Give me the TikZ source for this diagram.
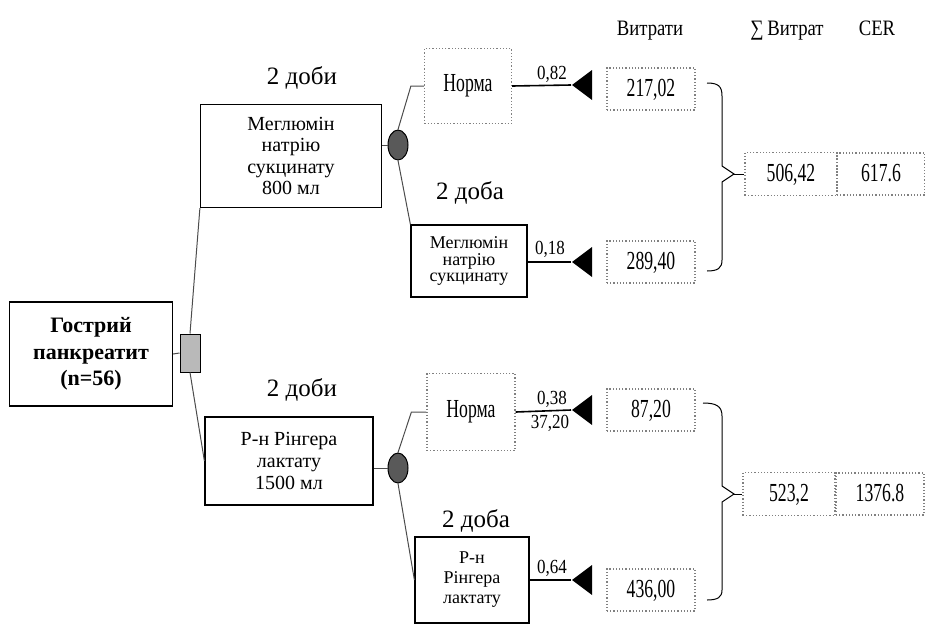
\documentclass[tikz,border=0pt]{standalone}
\usepackage{fontspec}
\setmainfont{Liberation Serif}
\newfontfamily\narrowfont[FakeStretch=0.68]{Liberation Serif}
\newfontfamily\semifont[FakeStretch=0.85]{Liberation Serif}
\usetikzlibrary{
  arrows.meta,
  positioning,
  calc,
  shapes.geometric
}

\begin{document}
\begin{tikzpicture}[
        x=0.5pt, y=-0.5pt,
        treebox/.style={draw, line width=0.6pt, align=center, inner sep=1pt},
        normbox/.style={draw=gray, densely dotted, line width=0.6pt, inner sep=1pt, minimum width=43.5pt, minimum height=37.5pt, font=\narrowfont\fontsize{13}{14}\selectfont},
        valbox/.style={draw=gray, densely dotted, line width=0.6pt, inner sep=1pt, minimum width=44pt, minimum height=21pt, text height=9pt, text depth=2pt, font=\narrowfont\fontsize{13}{14}\selectfont},
        chance/.style={ellipse, draw, fill=gray!70!black, line width=0.5pt, minimum width=10pt, minimum height=15pt, inner sep=0pt},
        decision/.style={rectangle, draw, fill=gray!55, line width=0.5pt, minimum width=10pt, minimum height=19pt, inner sep=0pt},
        endtri/.style={isosceles triangle, isosceles triangle stretches, shape border rotate=180, fill=black, minimum width=15pt, minimum height=10pt, inner sep=0pt, anchor=apex},
        daylbl/.style={font=\fontsize{12.5}{14}\selectfont},
        prob/.style={font=\semifont\fontsize{10}{11}\selectfont},
        hdr/.style={anchor=base, font=\semifont\fontsize{11}{12}\selectfont},
        branch/.style={gray!60!black, line width=0.5pt},
        endline/.style={black, line width=0.8pt}
    ]
        \useasboundingbox (0,0) rectangle (925,632);
        % Headers
        \node[hdr] (hcost) at (650,35) {Витрати};
        \node[hdr] (hsum) at (787,35) {∑\,Витрат};
        \node[hdr] (hcer) at (877,35) {CER};
        % Root and decision node
        \node[treebox, minimum width=81.5pt, minimum height=52pt, font=\fontsize{11}{13.2}\selectfont\bfseries] (pank) at (91,354) {Гострий\\панкреатит\\(n=56)};
        \node[decision] (dec) at (190,353) {};
        \draw[branch] (pank.east) -- (dec.west);
        % Upper branch
        \node[daylbl] (day1) at (302,78) {2 доби};
        \node[treebox, minimum width=90.5pt, minimum height=51.5pt, font=\fontsize{10}{10.8}\selectfont] (meg) at (291,156) {Меглюмін\\натрію\\сукцинату\\800 мл};
        \node[chance] (ch1) at (398,145) {};
        \node[normbox] (norm1) at (468,86) {Норма};
        \node[daylbl] (day2) at (470,193) {2 доба};
        \node[treebox, minimum width=58pt, minimum height=36pt, font=\fontsize{9}{8.4}\selectfont] (megs) at (469,261) {Меглюмін\\натрію\\сукцинату};
        \node[endtri] (tr1) at (571,85) {};
        \node[endtri] (tr2) at (571,262) {};
        \node[prob] (p1) at (552,74) {0,82};
        \node[prob] (p2) at (550,249) {0,18};
        \node[valbox] (v1) at (651,89) {217,02};
        \node[valbox] (v2) at (651,262) {289,40};
        \node[valbox, minimum width=46pt, minimum height=21.5pt] (s1) at (791,174) {506,42};
        \node[valbox] (c1) at (881,174) {617.6};
        \draw[branch] (dec.north) -- (meg.south west);
        \draw[branch] (meg.east |- ch1.west) -- (ch1.west);
        \draw[branch] (ch1.north) -- ([xshift=-6.5pt]norm1.west) -- (norm1.west);
        \draw[branch] (ch1.south) -- (megs.north west);
        \draw[endline] (norm1.east) -- (tr1.apex);
        \draw[endline] (megs.east |- tr2.apex) -- (tr2.apex);
        \draw[branch, black] (707,83) .. controls (718,83) and (722,86) .. (722,96) -- (722,166) -- (734,174) -- (722,182) -- (722,260) .. controls (722,268) and (718,271) .. (707,271);
        \draw[branch, black] (734,174) -- (s1.west);
        % Lower branch
        \node[daylbl] (day3) at (302,390) {2 доби};
        \node[treebox, minimum width=84pt, minimum height=44pt, font=\fontsize{10}{11}\selectfont] (ring) at (289,461) {Р-н Рінгера\\лактату\\1500 мл};
        \node[chance] (ch2) at (398,468) {};
        \node[normbox, minimum width=44pt, minimum height=38.5pt] (norm2) at (471,412) {Норма};
        \node[daylbl] (day4) at (476,521) {2 доба};
        \node[treebox, minimum width=57pt, minimum height=43pt, font=\fontsize{9}{10}\selectfont] (rings) at (472,580) {Р-н\\Рінгера\\лактату};
        \node[endtri] (tr3) at (571,410) {};
        \node[endtri] (tr4) at (571,580) {};
        \node[prob] (p3) at (552,399) {0,38};
        \node[prob] (p3b) at (550,423) {37,20};
        \node[prob] (p4) at (552,568) {0,64};
        \node[valbox] (v3) at (651,410) {87,20};
        \node[valbox] (v4) at (651,590) {436,00};
        \node[valbox, minimum width=46pt, minimum height=21.5pt] (s2) at (789,494) {523,2};
        \node[valbox] (c2) at (880,494) {1376.8};
        \draw[branch] (dec.south) -- (ring.west);
        \draw[branch] (ring.east |- ch2.west) -- (ch2.west);
        \draw[branch] (ch2.north) -- ([xshift=-7.5pt]norm2.west) -- (norm2.west);
        \draw[branch] (ch2.south) -- (rings.west);
        \draw[endline] (norm2.east) -- (tr3.apex);
        \draw[endline] (rings.east) -- (tr4.apex);
        \draw[branch, black] (703,403) .. controls (716,403) and (722,406) .. (722,416) -- (722,486) -- (734,494) -- (722,502) -- (722,590) .. controls (722,597) and (718,600) .. (707,600);
        \draw[branch, black] (734,494) -- (s2.west);
\end{tikzpicture}
\end{document}
